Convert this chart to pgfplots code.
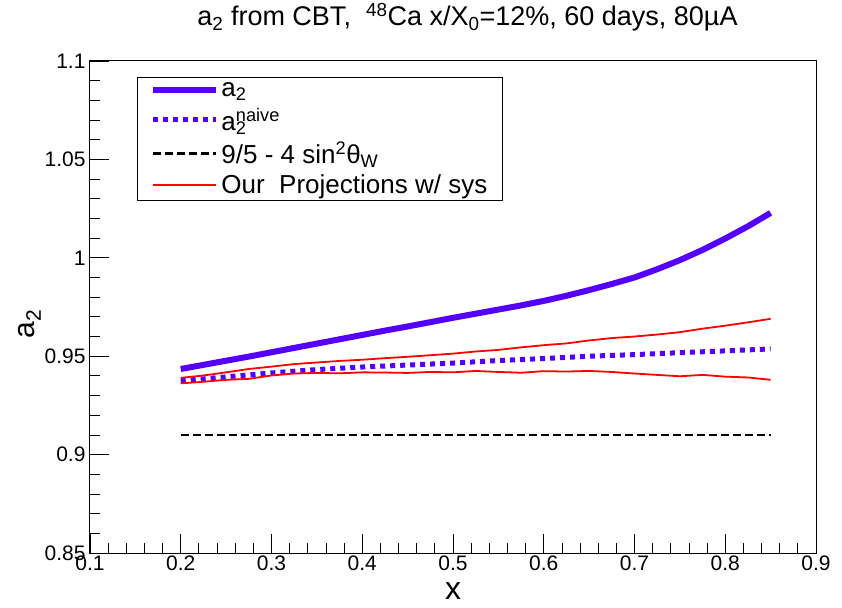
\documentclass[border=0pt]{standalone}
\usepackage{pgfplots}
\pgfplotsset{compat=1.18}
\usepackage{fontspec}
\setmainfont{Liberation Sans}
\definecolor{rootblue}{RGB}{85,0,255}

\begin{document}
\begin{tikzpicture}[x=1pt,y=1pt]
\begin{axis}[
  name=ax,
  scale only axis, width=726pt, height=492pt,
  xmin=0.1, xmax=0.9, ymin=0.85, ymax=1.1,
  xtick={0.1,0.2,0.3,0.4,0.5,0.6,0.7,0.8,0.9},
  ytick={0.85,0.9,0.95,1,1.05,1.1},
  minor x tick num=4, minor y tick num=4,
  tick align=inside, tick pos=left,
  major tick length=19pt, minor tick length=10pt,
  axis line style={line width=1pt},
  every tick/.style={black, line width=0.8pt},
  /pgf/number format/assume math mode=true,
  tick label style={font=\fontsize{21}{21}\selectfont},
  yticklabel style={xshift=-1pt},
  xticklabel style={yshift=1pt},
  xlabel={x},
  xlabel style={font=\fontsize{32}{32}\selectfont, at={(axis description cs:0.5,-0.0955)}, anchor=base},
  ylabel={a\textsubscript{2}},
  ylabel style={font=\fontsize{30}{30}\selectfont, at={(axis description cs:-0.083,0.465)}, anchor=center},
  title={a\textsubscript{2} from CBT,\ \ \textsuperscript{48}Ca x/X\textsubscript{0}=12\%, 60 days, 80µA},
  title style={font=\fontsize{27}{27}\selectfont, at={(axis description cs:0.52,1.059)}, anchor=base},
  legend style={at={(rel axis cs:0.0647,0.9675)}, anchor=north west,
    draw=black, line width=1pt, font=\fontsize{26}{28}\selectfont,
    inner xsep=13pt, inner ysep=3pt, row sep=6pt,
    cells={anchor=west}},
  legend image code/.code={\draw[#1] (0pt,0pt) -- (63pt,0pt);},
]
% a_2 extracted from the CBT fit
\addplot[rootblue, line width=6pt] coordinates {
(0.200,0.9435) (0.225,0.9456) (0.250,0.9477) (0.275,0.9498) (0.300,0.9520)
(0.325,0.9542) (0.350,0.9564) (0.375,0.9586) (0.400,0.9608) (0.425,0.9630)
(0.450,0.9651) (0.475,0.9673) (0.500,0.9695) (0.525,0.9716) (0.550,0.9737)
(0.575,0.9758) (0.600,0.9781) (0.625,0.9807) (0.650,0.9836) (0.675,0.9867)
(0.700,0.9900) (0.725,0.9942) (0.750,0.9988) (0.775,1.0040) (0.800,1.0098)
(0.825,1.0160) (0.850,1.0228)};
\addlegendentry{a\textsubscript{2}}
% naive a_2
\addplot[rootblue, line width=5pt, dash pattern=on 5pt off 5pt] coordinates {
(0.200,0.9375) (0.250,0.9395) (0.300,0.9415) (0.350,0.9432) (0.400,0.9445)
(0.450,0.9455) (0.500,0.9465) (0.550,0.9478) (0.600,0.9488) (0.650,0.9500)
(0.700,0.9508) (0.750,0.9518) (0.800,0.9527) (0.850,0.9537)};
\addlegendentry{a\rlap{\textsubscript{2}}\textsuperscript{naive}}
% Standard Model value
\addplot[black, line width=2.5pt, dash pattern=on 8pt off 4pt] coordinates {
(0.200,0.910) (0.850,0.910)};
\addlegendentry{9/5 - 4 sin\textsuperscript{2}θ\textsubscript{W}}
% projection band including systematics
\addplot[red, line width=1.8pt] coordinates {
(0.200,0.9390) (0.225,0.9402) (0.250,0.9418) (0.275,0.9435) (0.300,0.9447)
(0.325,0.9460) (0.350,0.9468) (0.375,0.9476) (0.400,0.9482) (0.425,0.9490)
(0.450,0.9497) (0.475,0.9505) (0.500,0.9513) (0.525,0.9524) (0.550,0.9532)
(0.575,0.9545) (0.600,0.9556) (0.625,0.9565) (0.650,0.9580) (0.675,0.9592)
(0.700,0.9600) (0.725,0.9610) (0.750,0.9622) (0.775,0.9640) (0.800,0.9655)
(0.825,0.9672) (0.850,0.9690)};
\addlegendentry{Our\ \ Projections w/ sys}
\addplot[red, line width=1.8pt, forget plot] coordinates {
(0.200,0.9362) (0.225,0.9370) (0.250,0.9380) (0.275,0.9385) (0.300,0.9402)
(0.325,0.9412) (0.350,0.9415) (0.375,0.9413) (0.400,0.9418) (0.425,0.9417)
(0.450,0.9415) (0.475,0.9420) (0.500,0.9418) (0.525,0.9425) (0.550,0.9420)
(0.575,0.9416) (0.600,0.9424) (0.625,0.9422) (0.650,0.9425) (0.675,0.9420)
(0.700,0.9412) (0.725,0.9405) (0.750,0.9398) (0.775,0.9405) (0.800,0.9396)
(0.825,0.9392) (0.850,0.9380)};
\end{axis}
% page margins around the axis box
\path (ax.south west) ++(-90pt,-54pt) rectangle ++(842pt,607pt);
\end{tikzpicture}
\end{document}
